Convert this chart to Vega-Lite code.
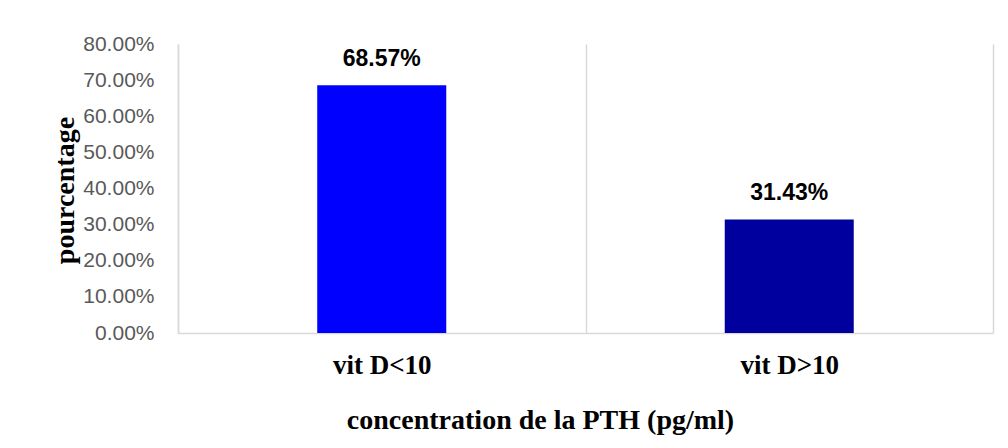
{
  "$schema": "https://vega.github.io/schema/vega-lite/v6.json",
  "autosize": {"type": "none"},
  "padding": {"left": 178, "top": 44, "right": 15, "bottom": 115},
  "width": 815,
  "height": 289,
  "background": "white",
  "config": {"view": {"stroke": null}},
  "data": {"values": [
    {"categorie": "vit D<10", "pourcentage": 0.6857},
    {"categorie": "vit D>10", "pourcentage": 0.3143}
  ]},
  "encoding": {
    "x": {"field": "categorie", "type": "nominal", "sort": null,
      "scale": {"paddingInner": 0, "paddingOuter": 0},
      "axis": {"title": "concentration de la PTH (pg/ml)", "labelAngle": 0,
        "grid": true, "tickBand": "extent", "gridColor": "#d9d9d9", "gridWidth": 1.5,
        "domainColor": "#d9d9d9", "domainWidth": 1.5, "ticks": false, "tickSize": 0,
        "labelFont": "Liberation Serif", "labelFontWeight": "bold", "labelFontSize": 27, "labelColor": "#000000", "labelPadding": 19,
        "titleFont": "Liberation Serif", "titleFontWeight": "bold", "titleFontSize": 28, "titleColor": "#000000",
        "titleX": 362, "titleY": 95, "titleBaseline": "alphabetic", "titleAnchor": null, "titleAlign": "center"}},
    "y": {"field": "pourcentage", "type": "quantitative",
      "scale": {"domain": [0, 0.8], "nice": false},
      "axis": {"title": "pourcentage", "format": ".2%", "values": [0, 0.1, 0.2, 0.3, 0.4, 0.5, 0.6, 0.7, 0.8],
        "grid": false, "ticks": false, "tickSize": 0, "domainColor": "#d9d9d9", "domainWidth": 1.5,
        "labelFont": "Liberation Sans", "labelFontSize": 21, "labelColor": "#595959", "labelPadding": 24,
        "titleFont": "Liberation Serif", "titleFontWeight": "bold", "titleFontSize": 28, "titleColor": "#000000",
        "titleX": -113, "titleY": 146, "titleBaseline": "middle", "titleAngle": -90, "titleAlign": "center"}}
  },
  "layer": [
    {"mark": {"type": "bar", "width": {"band": 0.3166}},
     "encoding": {"color": {"field": "categorie", "type": "nominal", "sort": null,
       "scale": {"domain": ["vit D<10", "vit D>10"], "range": ["#0000FF", "#00009F"]}, "legend": null}}},
    {"mark": {"type": "text", "baseline": "alphabetic", "dy": -19, "font": "Liberation Sans", "fontWeight": "bold", "fontSize": 23, "color": "#000000"},
     "encoding": {"text": {"field": "pourcentage", "type": "quantitative", "format": ".2%"}}}
  ]
}
